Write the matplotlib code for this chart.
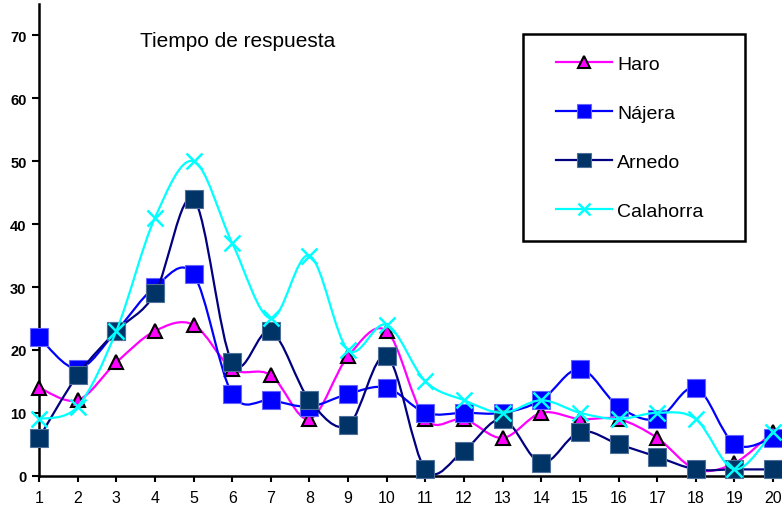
import matplotlib
matplotlib.use("Agg")
import matplotlib.pyplot as plt
from matplotlib.path import Path
from matplotlib.patches import PathPatch, Rectangle
from matplotlib.lines import Line2D

plt.rcParams['font.family'] = ['Liberation Sans', 'DejaVu Sans']

# data
dias = list(range(1, 21))
haro = [14, 12, 18, 23, 24, 17, 16, 9, 19, 23, 9, 9, 6, 10, 9, 9, 6, 1, 2, 7]
najera = [22, 17, 23, 30, 32, 13, 12, 11, 13, 14, 10, 10, 10, 12, 17, 11, 9, 14, 5, 6]
arnedo = [6, 16, 23, 29, 44, 18, 23, 12, 8, 19, 1, 4, 9, 2, 7, 5, 3, 1, 1, 1]
calahorra = [9, 11, 23, 41, 50, 37, 25, 35, 20, 24, 15, 12, 10, 12, 10, 9, 10, 9, 1, 7]
y_ticks = [0, 10, 20, 30, 40, 50, 60, 70]
titulo = "Tiempo de respuesta"

series = [
    ("Haro", haro, dict(color="#FF00FF", marker="^", ms=10.5, mfc="#FF00FF", mec="black", mew=1.5)),
    ("Nájera", najera, dict(color="#0000FF", marker="s", ms=12.5, mfc="#0000FF", mec="#6666FF", mew=0.8)),
    ("Arnedo", arnedo, dict(color="#000080", marker="s", ms=12.5, mfc="#003366", mec="#4D6F99", mew=0.8)),
    ("Calahorra", calahorra, dict(color="#00FFFF", marker="x", ms=11, mfc="none", mec="#00FFFF", mew=1.8)),
]


def smooth_path(xs, ys):
    # Excel style smoothed line: cubic bezier through every point
    pts = list(zip(xs, ys))
    n = len(pts)
    verts = [pts[0]]
    codes = [Path.MOVETO]
    for i in range(n - 1):
        p0 = pts[i - 1] if i > 0 else pts[i]
        p1 = pts[i]
        p2 = pts[i + 1]
        p3 = pts[i + 2] if i + 2 < n else pts[i + 1]
        c1 = (p1[0] + (p2[0] - p0[0]) / 6.0, p1[1] + (p2[1] - p0[1]) / 6.0)
        c2 = (p2[0] - (p3[0] - p1[0]) / 6.0, p2[1] - (p3[1] - p1[1]) / 6.0)
        verts += [c1, c2, p2]
        codes += [Path.CURVE4] * 3
    return Path(verts, codes)


fig = plt.figure(figsize=(7.82, 5.10), dpi=100)
ax = fig.add_axes([39 / 782, 33.3 / 510, 743 / 782, 471.7 / 510])

handles = []
for k, (name, vals, st) in enumerate(series):
    patch = PathPatch(smooth_path(dias, vals), facecolor="none", edgecolor=st["color"],
                      linewidth=1.6, zorder=3 + 2 * k, capstyle="round", joinstyle="round")
    ax.add_patch(patch)
    ax.plot(dias, vals, linestyle="none", marker=st["marker"], markersize=st["ms"],
            markerfacecolor=st["mfc"], markeredgecolor=st["mec"], markeredgewidth=st["mew"],
            zorder=4 + 2 * k, clip_on=False)
    handles.append(Line2D([], [], color=st["color"], linewidth=1.6, marker=st["marker"],
                          markersize=st["ms"] * 0.85, markerfacecolor=st["mfc"],
                          markeredgecolor=st["mec"], markeredgewidth=st["mew"], label=name))

ax.set_xlim(1, 20.23)
ax.set_ylim(0, 75)
ax.set_xticks(dias)
ax.set_xticklabels([str(d) for d in dias], fontsize=11.5)
ax.set_yticks(y_ticks)
ax.set_yticklabels([str(v) for v in y_ticks], fontsize=10.5, fontweight="bold")
ax.tick_params(axis="x", direction="out", length=4, width=1.5, pad=6)
ax.tick_params(axis="y", direction="out", length=5, width=1.5, pad=4)

for side in ["top", "right"]:
    ax.spines[side].set_visible(False)
for side in ["left", "bottom"]:
    ax.spines[side].set_linewidth(1.8)
    ax.spines[side].set_color("black")

fig.text(140 / 782, (510 - 47) / 510, titulo, fontsize=15, ha="left", va="baseline")

# legend with a hand drawn frame
fig.patches.append(Rectangle((523 / 782, (510 - 242) / 510), 222 / 782, 207 / 510,
                             transform=fig.transFigure, facecolor="white",
                             edgecolor="black", linewidth=1.8, zorder=20))
leg = fig.legend(handles=handles, loc="upper left", bbox_to_anchor=(556 / 782, (510 - 56) / 510),
                 frameon=False, fontsize=14, handlelength=2.9, handletextpad=0.25,
                 labelspacing=1.62, borderpad=0, borderaxespad=0)
leg.set_zorder(21)

fig.savefig("out.png", dpi=100)
